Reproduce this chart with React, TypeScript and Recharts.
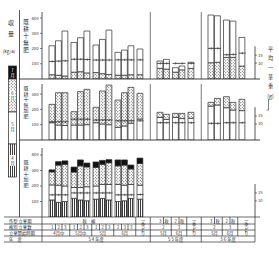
import React from "react";
import { ComposedChart, Bar, Line, XAxis, YAxis, ReferenceLine } from "recharts";

// ---------------- data ----------------
const sectionLabels = ["5 4 年度", "5 5 年度", "5 6 年度"];
const groupSizes = [3, 3, 3, 3, 1, 2, 2, 1, 2, 2, 1];
const groupSection = [0, 0, 0, 0, 0, 1, 1, 1, 2, 2, 2];
const singleLabel = "一季どり";
const plantType54 = "秋　植";
const rowLabels = ["作型 立茎期", "株別 立茎数", "立茎開始時期", "年　度"];
// per-bar table texts (23 bars)
const barRow1 = ["", "", "", "", "", "", "", "", "", "", "", "", "", "3", "秋", "2", "秋", "", "3", "秋", "2", "秋", ""];
const barStems = ["1", "2", "3", "1", "2", "3", "1", "2", "3", "2", "3", "3", "", "", "", "", "", "", "", "", "", "", ""];
// per-group table texts (11 groups)
const groupStems = ["", "", "", "", "", "2", "3", "", "2", "3", ""];
const groupMonths = ["4月中", "5月中", "5月", "6月", "", "5月", "6月", "", "5月", "6月", ""];

// panel 1: 既耕十無肥
const p1Dotted = [28, 25, 20, 45, 48, 40, 42, 35, 30, 25, 25, 28, 28, 70, 65, 45, 60, 70, 107, 110, 142, 142, 85];
const p1White = [190, 226, 295, 195, 223, 275, 181, 225, 291, 150, 165, 190, 169, 48, 64, 29, 25, 40, 313, 305, 245, 238, 188];
const p1Weight = [11.0, 11.2, 11.4, 12.4, 12.4, 12.2, 11.9, 11.9, 11.9, 12.0, 12.0, 12.0, 12.0, 9.8, 9.8, 9.8, 9.8, 9.8, 19.2, 19.2, 15.2, 15.4, 16.2];

// panel 2: 既耕十無加肥
const p2White = [113, 98, 95, 98, 98, 100, 113, 105, 100, 83, 92, 110, 137, 148, 135, 148, 140, 142, 222, 229, 211, 196, 192];
const p2Dotted = [120, 211, 214, 87, 218, 231, 101, 215, 259, 178, 217, 234, 168, 33, 33, 26, 34, 39, 24, 43, 72, 50, 74];
const p2Weight = [11.4, 11.4, 11.4, 13.0, 13.0, 13.0, 12.5, 12.5, 12.5, 12.0, 12.0, 12.0, 12.0, 10.8, 10.8, 10.8, 10.8, 10.8, 10.4, 10.4, 10.8, 10.8, 10.8];

// panel 3: 既耕十加肥 (only 54年度)
const p3Apr = [110, 95, 100, 120, 110, 105, 115, 120, 110, 100, 105, 120, 115];
const p3May = [97, 110, 100, 70, 80, 90, 85, 90, 100, 110, 100, 90, 90];
const p3Jun = [84, 130, 140, 100, 140, 128, 120, 130, 140, 120, 130, 100, 140];
const p3Jul = [13, 22, 22, 32, 38, 25, 35, 25, 20, 38, 33, 25, 35];
const p3Weight = [13.8, 13.8, 13.8, 15.0, 15.0, 15.0, 15.0, 15.0, 15.0, 13.8, 13.8, 13.8, 14.0];

const legendMonths = ["7月", "6月", "5月", "4月"];
const yTicks1 = [100, 200, 300, 400];
const yTicks2 = [100, 200, 300];
const yTicks3 = [100, 200, 300, 400];
const wTicks = [10, 15];

// ---------------- layout ----------------
const FONT = '"Noto Sans CJK JP", "Noto Sans", sans-serif';
const INK = "#2b2b2b";
const W = 279;
const PLOT_L = 42;
const PLOT_R = 255;
const X_MAX = PLOT_R - PLOT_L;
const BAR_W = 6.5;
const PAD = 7;
const GROUP_GAP = 2.5;
const SECTION_GAP = 13.5;

const centers: number[] = [];
const barGroup: number[] = [];
const groupStart: number[] = [];
const groupEnd: number[] = [];
{
  let cur = PAD;
  groupSizes.forEach((n, g) => {
    if (g > 0) cur += groupSection[g] !== groupSection[g - 1] ? SECTION_GAP : GROUP_GAP;
    groupStart.push(cur);
    for (let b = 0; b < n; b++) {
      centers.push(cur + BAR_W / 2);
      barGroup.push(g);
      cur += BAR_W;
    }
    groupEnd.push(cur);
  });
}
const dividers: number[] = [];
for (let g = 1; g < groupSizes.length; g++) {
  if (groupSection[g] !== groupSection[g - 1]) dividers.push((groupEnd[g - 1] + groupStart[g]) / 2);
}
const px = (u: number) => PLOT_L + u;

const rows = centers.map((pos, i) => ({
  pos,
  p1a: p1Dotted[i],
  p1b: p1White[i],
  w1: p1Weight[i],
  p2a: p2White[i],
  p2b: p2Dotted[i],
  w2: p2Weight[i],
  p3a: p3Apr[i],
  p3b: p3May[i],
  p3c: p3Jun[i],
  p3d: p3Jul[i],
  w3: p3Weight[i] ?? null,
}));

const renderDash = (props: any) => {
  const { cx, cy, index } = props;
  if (cy == null || cx == null || isNaN(cy)) return <g key={`d${index}`} />;
  return (
    <g key={`d${index}`}>
      <line x1={cx - BAR_W / 2} x2={cx + BAR_W / 2} y1={cy} y2={cy} stroke={INK} strokeWidth={0.8} />
      <line x1={cx} x2={cx} y1={cy - 1.2} y2={cy + 1.2} stroke={INK} strokeWidth={0.6} />
    </g>
  );
};

type Series = { key: string; fill: string };

function Panel(props: {
  top: number;
  height: number;
  yMax: number;
  yTicks: number[];
  wMax: number;
  series: Series[];
  wKey: string;
  showDividers: boolean;
}) {
  const { top, height, yMax, yTicks, wMax, series, wKey, showDividers } = props;
  return (
    <div style={{ position: "absolute", left: 0, top, width: W, height }}>
      <ComposedChart width={W} height={height} data={rows} margin={{ top: 0, right: 0, bottom: 0, left: 0 }}>
        <XAxis type="number" dataKey="pos" domain={[0, X_MAX]} hide allowDataOverflow />
        <YAxis
          yAxisId="v"
          domain={[0, yMax]}
          ticks={yTicks}
          interval={0}
          allowDataOverflow
          width={PLOT_L}
          tickSize={2}
          tickMargin={1.5}
          axisLine={{ stroke: INK, strokeWidth: 0.8 }}
          tickLine={{ stroke: INK, strokeWidth: 0.6 }}
          tick={{ fontSize: 4.2, fill: INK, fontFamily: FONT }}
        />
        <YAxis
          yAxisId="w"
          orientation="right"
          domain={[0, wMax]}
          ticks={wTicks}
          interval={0}
          allowDataOverflow
          width={W - PLOT_R}
          tickSize={2}
          tickMargin={1}
          axisLine={false}
          tickLine={{ stroke: INK, strokeWidth: 0.6 }}
          tick={{ fontSize: 4.2, fill: INK, fontFamily: FONT }}
        />
        {showDividers &&
          dividers.map((d, i) => (
            <ReferenceLine key={`dv${i}`} yAxisId="v" x={d} stroke="#555" strokeWidth={0.8} />
          ))}
        <ReferenceLine
          yAxisId="w"
          segment={[
            { x: X_MAX, y: 0 },
            { x: X_MAX, y: 20.5 },
          ]}
          stroke={INK}
          strokeWidth={0.8}
          ifOverflow="visible"
        />
        {series.map((s) => (
          <Bar
            key={s.key}
            yAxisId="v"
            dataKey={s.key}
            stackId="s"
            fill={s.fill}
            stroke={INK}
            strokeWidth={0.7}
            barSize={BAR_W}
            isAnimationActive={false}
          />
        ))}
        <Line
          yAxisId="w"
          dataKey={wKey}
          stroke="none"
          dot={renderDash}
          activeDot={false}
          isAnimationActive={false}
          legendType="none"
        />
      </ComposedChart>
    </div>
  );
}

function VText(p: { x: number; y: number; chars: string[]; size: number; step: number; fill?: string }) {
  return (
    <text fontSize={p.size} fontFamily={FONT} fill={p.fill ?? INK} textAnchor="middle" dominantBaseline="central">
      {p.chars.map((c, i) => (
        <tspan key={i} x={p.x} y={p.y + i * p.step}>
          {c}
        </tspan>
      ))}
    </text>
  );
}

const ROW_Y = [217, 224, 230, 236, 242];

function Table() {
  const els: React.ReactNode[] = [];
  const T = 4.3;
  const ln = (x1: number, y1: number, x2: number, y2: number, k: string) => (
    <line key={k} x1={x1} y1={y1} x2={x2} y2={y2} stroke={INK} strokeWidth={0.7} />
  );
  const txt = (x: number, y: number, s: string, k: string) => (
    <text key={k} x={x} y={y} fontSize={T} fontFamily={FONT} fill={INK} textAnchor="middle" dominantBaseline="central">
      {s}
    </text>
  );
  ROW_Y.forEach((y, i) => els.push(ln(4, y, i === 0 ? 260 : PLOT_R, y, `h${i}`)));
  els.push(ln(PLOT_L, ROW_Y[0], PLOT_L, ROW_Y[4], "vl"));
  els.push(ln(PLOT_R, ROW_Y[0], PLOT_R, ROW_Y[4], "vr"));
  dividers.forEach((d, i) => els.push(ln(px(d), ROW_Y[0], px(d), ROW_Y[4], `vd${i}`)));
  rowLabels.forEach((s, i) => {
    els.push(
      <text key={`rl${i}`} x={9} y={(ROW_Y[i] + ROW_Y[i + 1]) / 2} fontSize={T} fontFamily={FONT} fill={INK} dominantBaseline="central">
        {s}
      </text>
    );
  });
  const secBounds = [
    [0, dividers[0]],
    [dividers[0], dividers[1]],
    [dividers[1], X_MAX],
  ];
  secBounds.forEach(([a, b], s) => {
    els.push(txt(px((a + b) / 2), (ROW_Y[3] + ROW_Y[4]) / 2, sectionLabels[s], `sl${s}`));
  });
  groupSizes.forEach((n, g) => {
    const sec = groupSection[g];
    const left = g === 0 || groupSection[g - 1] !== sec ? secBounds[sec][0] : (groupEnd[g - 1] + groupStart[g]) / 2;
    const right =
      g === groupSizes.length - 1 || groupSection[g + 1] !== sec ? secBounds[sec][1] : (groupEnd[g] + groupStart[g + 1]) / 2;
    const mid = (groupStart[g] + groupEnd[g]) / 2;
    if (n === 1) {
      els.push(ln(px(left), ROW_Y[0], px(left), ROW_Y[3], `sg${g}`));
      els.push(
        <VText key={`sv${g}`} x={px((left + right) / 2)} y={ROW_Y[0] + 2.6} chars={singleLabel.split("")} size={4.2} step={4.6} />
      );
      return;
    }
    if (left !== secBounds[sec][0]) {
      els.push(ln(px(left), sec === 0 ? ROW_Y[1] : ROW_Y[0], px(left), ROW_Y[3], `gb${g}`));
    }
    els.push(txt(px(mid), (ROW_Y[2] + ROW_Y[3]) / 2, groupMonths[g], `gm${g}`));
    if (groupStems[g]) els.push(txt(px(mid), (ROW_Y[1] + ROW_Y[2]) / 2, groupStems[g], `gs${g}`));
    for (let k = 1; k < n; k++) {
      const x = px(groupStart[g] + k * BAR_W);
      els.push(sec === 0 ? ln(x, ROW_Y[1], x, ROW_Y[2], `bb${g}_${k}`) : ln(x, ROW_Y[0], x, ROW_Y[1], `bb${g}_${k}`));
    }
  });
  centers.forEach((c, i) => {
    if (barRow1[i]) els.push(txt(px(c), (ROW_Y[0] + ROW_Y[1]) / 2, barRow1[i], `r1${i}`));
    if (barStems[i]) els.push(txt(px(c), (ROW_Y[1] + ROW_Y[2]) / 2, barStems[i], `r2${i}`));
  });
  // 54 row 1 span
  const single54 = groupSizes.findIndex((n, g) => n === 1 && groupSection[g] === 0);
  const spanRight = (groupEnd[single54 - 1] + groupStart[single54]) / 2;
  els.push(txt(px(spanRight / 2), (ROW_Y[0] + ROW_Y[1]) / 2, plantType54, "pt54"));
  return <g>{els}</g>;
}

function Overlay() {
  const lx = 8.5;
  const lw = 8;
  return (
    <svg width={W} height={255} style={{ position: "absolute", left: 0, top: 0, pointerEvents: "none" }}>
      {/* frame */}
      <line x1={19.5} y1={10} x2={19.5} y2={217} stroke={INK} strokeWidth={0.8} />
      <line x1={19.5} y1={79} x2={260} y2={79} stroke={INK} strokeWidth={0.9} />
      <line x1={19.5} y1={140} x2={260} y2={140} stroke={INK} strokeWidth={0.9} />
      {/* y title */}
      <VText x={11} y={22} chars={["収", "量"]} size={6} step={11} />
      <text x={9} y={53} fontSize={4.5} fontFamily={FONT} fill={INK} textAnchor="middle">(kg/a)</text>
      {/* legend */}
      <rect x={lx} y={66} width={lw} height={13} fill="#111" stroke={INK} strokeWidth={0.7} />
      <rect x={lx} y={79} width={lw} height={33} fill="url(#pDots)" stroke={INK} strokeWidth={0.7} />
      <rect x={lx} y={112} width={lw} height={32} fill="#fff" stroke={INK} strokeWidth={0.7} />
      <rect x={lx} y={144} width={lw} height={33} fill="url(#pStripes)" stroke={INK} strokeWidth={0.7} />
      <VText x={lx + lw / 2} y={70} chars={legendMonths[0].split("")} size={4.2} step={5} fill="#fff" />
      <rect x={lx + 1.3} y={90} width={lw - 2.6} height={11} fill="#fff" />
      <VText x={lx + lw / 2} y={92.5} chars={legendMonths[1].split("")} size={4.2} step={5} />
      <VText x={lx + lw / 2} y={124} chars={legendMonths[2].split("")} size={4.2} step={5} />
      <rect x={lx + 1.3} y={155} width={lw - 2.6} height={11} fill="#fff" />
      <VText x={lx + lw / 2} y={157.5} chars={legendMonths[3].split("")} size={4.2} step={5} />
      {/* panel labels */}
      <VText x={26} y={22} chars={"既耕十無肥".split("")} size={5.5} step={7} />
      <VText x={26} y={87} chars={"既耕十無加肥".split("")} size={5} step={5.6} />
      <VText x={26} y={161} chars={"既耕十加肥".split("")} size={5} step={5.8} />
      {/* right title */}
      <VText x={270.5} y={48} chars={["平", "均", "一", "茎", "重", "(g)"]} size={5.2} step={9.3} />
      <line x1={268.5} y1={99} x2={268.5} y2={110} stroke={INK} strokeWidth={0.6} />
      <line x1={266.5} y1={110} x2={268.5} y2={110} stroke={INK} strokeWidth={0.6} />
      <Table />
    </svg>
  );
}

export default function App() {
  return (
    <div style={{ position: "absolute", left: 0, top: 0, width: W, height: 255, background: "#fff", overflow: "hidden" }}>
      <svg width={0} height={0} style={{ position: "absolute" }}>
        <defs>
          <pattern id="pDots" width={3} height={3} patternUnits="userSpaceOnUse">
            <rect width={3} height={3} fill="#fff" />
            <circle cx={0.8} cy={0.8} r={0.55} fill="#333" />
            <circle cx={2.3} cy={2.2} r={0.5} fill="#555" />
          </pattern>
          <pattern id="pStripes" width={2} height={2} patternUnits="userSpaceOnUse">
            <rect width={2} height={2} fill="#fff" />
            <rect x={0} y={0} width={0.9} height={2} fill="#222" />
          </pattern>
        </defs>
      </svg>
      <Panel
        top={12}
        height={67}
        yMax={440}
        yTicks={yTicks1}
        wMax={42}
        series={[
          { key: "p1a", fill: "url(#pDots)" },
          { key: "p1b", fill: "#fff" },
        ]}
        wKey="w1"
        showDividers
      />
      <Panel
        top={84}
        height={56}
        yMax={366}
        yTicks={yTicks2}
        wMax={35}
        series={[
          { key: "p2a", fill: "#fff" },
          { key: "p2b", fill: "url(#pDots)" },
        ]}
        wKey="w2"
        showDividers
      />
      <Panel
        top={148}
        height={69}
        yMax={445}
        yTicks={yTicks3}
        wMax={43}
        series={[
          { key: "p3a", fill: "url(#pStripes)" },
          { key: "p3b", fill: "#fff" },
          { key: "p3c", fill: "url(#pDots)" },
          { key: "p3d", fill: "#111" },
        ]}
        wKey="w3"
        showDividers={false}
      />
      <Overlay />
    </div>
  );
}
